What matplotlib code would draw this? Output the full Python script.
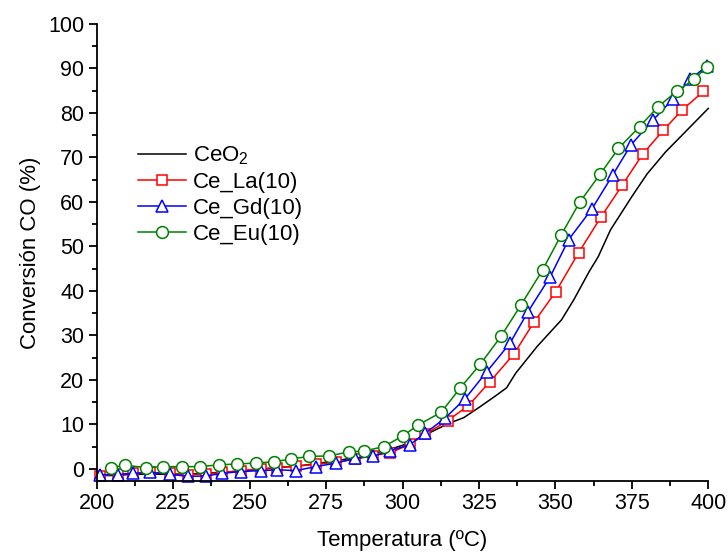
import matplotlib
matplotlib.use("Agg")
import matplotlib.pyplot as plt
from matplotlib.ticker import MultipleLocator

plt.rcParams['font.family'] = ['Liberation Sans', 'DejaVu Sans']
plt.rcParams['mathtext.fontset'] = 'custom'
plt.rcParams['mathtext.rm'] = 'Liberation Sans'
plt.rcParams['mathtext.default'] = 'regular'

# CeO2 (line only)
t_ceo2 = [200, 205, 210, 215, 220, 225, 230, 235, 240, 245, 250, 255, 260, 265, 270,
          275, 280, 285, 290, 295, 300, 305, 310, 315, 320, 325, 330, 334, 337, 344,
          352, 356, 361, 364, 368, 375, 380, 386, 392, 400]
ceo2 = [-1.5, -1.5, -1.3, -1.2, -1.2, -1.2, -1.2, -1.0, -0.8, -0.6, -0.3, 0.0, 0.3, 0.6, 1.0,
        1.5, 2.0, 2.7, 3.4, 4.2, 5.3, 6.8, 8.5, 10.2, 11.5, 13.8, 16.2, 18.2, 21.5, 27.5,
        33.5, 38.0, 44.3, 47.7, 53.7, 61.2, 66.3, 71.2, 75.4, 81.0]

# Ce_La(10)
t_la = [201.0, 206.9, 211.8, 217.5, 223.8, 229.7, 235.7, 241.1, 247.1, 253.6, 259.0,
        265.0, 271.6, 278.3, 284.6, 290.2, 296.0, 302.3, 307.4, 314.7, 321.5, 328.6,
        336.4, 342.9, 350.1, 357.6, 364.8, 371.8, 378.5, 385.3, 391.5, 398.4]
la = [-1.5, -1.2, -1.0, -0.8, -1.0, -1.3, -1.2, -0.8, -0.4, 0.0, 0.3,
      0.6, 1.0, 1.5, 2.2, 3.0, 3.6, 5.5, 7.8, 10.8, 14.2, 19.6,
      25.8, 32.9, 39.8, 48.6, 56.5, 63.7, 70.7, 76.1, 80.7, 84.8]

# Ce_Gd(10)
t_gd = [201.0, 206.9, 211.8, 217.5, 223.8, 229.7, 235.7, 241.1, 247.1, 253.6, 259.0,
        265.0, 271.6, 278.3, 284.6, 290.2, 296.0, 302.3, 307.4, 313.9, 320.5, 327.5,
        335.1, 341.0, 348.3, 354.3, 362.0, 368.7, 374.7, 381.8, 388.3, 394.0, 399.5]
gd = [-1.3, -1.3, -1.0, -0.8, -1.2, -1.7, -1.6, -1.0, -0.6, -0.4, -0.2,
      -0.4, 0.5, 1.3, 2.4, 2.8, 4.1, 5.4, 8.0, 11.4, 15.8, 21.8,
      28.2, 35.3, 43.2, 51.5, 58.5, 66.0, 72.8, 78.3, 83.0, 87.5, 90.5]

# Ce_Eu(10)
t_eu = [204.5, 209.3, 216.0, 221.8, 227.9, 233.9, 239.8, 246.0, 252.0, 258.0, 263.4,
        269.4, 275.9, 282.4, 287.5, 293.8, 300.1, 305.2, 312.6, 318.9, 325.4, 332.2,
        338.7, 345.8, 351.9, 357.9, 364.6, 370.6, 377.5, 383.6, 389.6, 395.4, 399.5]
eu = [0.3, 0.8, 0.3, 0.5, 0.5, 0.5, 0.9, 1.1, 1.3, 1.6, 2.2,
      2.8, 2.9, 3.8, 4.0, 5.0, 7.4, 9.9, 12.7, 18.2, 23.5, 29.8,
      36.8, 44.7, 52.6, 59.9, 66.2, 72.0, 76.9, 81.4, 84.8, 87.6, 90.3]

fig = plt.figure(figsize=(7.28, 5.54), dpi=100)
ax = fig.add_axes([0.133, 0.132, 0.840, 0.825])

ax.plot(t_ceo2, ceo2, color='black', lw=1.1, label='CeO$_2$', clip_on=False)
ax.plot(t_la, la, color='#ff0000', lw=1.1, marker='s', ms=7.5, mfc='white', mec='#ff0000',
        mew=1.1, label='Ce_La(10)', clip_on=False)
ax.plot(t_gd, gd, color='#0000ff', lw=1.1, marker='^', ms=9, mfc='white', mec='#0000ff',
        mew=1.1, label='Ce_Gd(10)', clip_on=False)
ax.plot(t_eu, eu, color='#008000', lw=1.1, marker='o', ms=8.5, mfc='white', mec='#008000',
        mew=1.1, label='Ce_Eu(10)', clip_on=False)

ax.set_xlim(200, 400)
ax.set_ylim(-2.7, 100)
ax.xaxis.set_major_locator(MultipleLocator(25))
ax.xaxis.set_minor_locator(MultipleLocator(12.5))
ax.yaxis.set_major_locator(MultipleLocator(10))
ax.yaxis.set_minor_locator(MultipleLocator(5))
ax.spines['top'].set_visible(False)
ax.spines['right'].set_visible(False)
for s in ['left', 'bottom']:
    ax.spines[s].set_linewidth(1.3)
ax.tick_params(which='major', direction='out', length=6, width=1.3, labelsize=15.5, pad=3)
ax.tick_params(which='minor', direction='out', length=3.5, width=1.3)
ax.set_xlabel('Temperatura (ºC)', fontsize=16, labelpad=11)
ax.set_ylabel('Conversión CO (%)', fontsize=16, labelpad=5)

ax.legend(loc='upper left', bbox_to_anchor=(0.052, 0.755), frameon=False, fontsize=16,
          handlelength=2.2, handletextpad=0.3, labelspacing=0.22, borderaxespad=0)

fig.savefig('out.png', dpi=100)
